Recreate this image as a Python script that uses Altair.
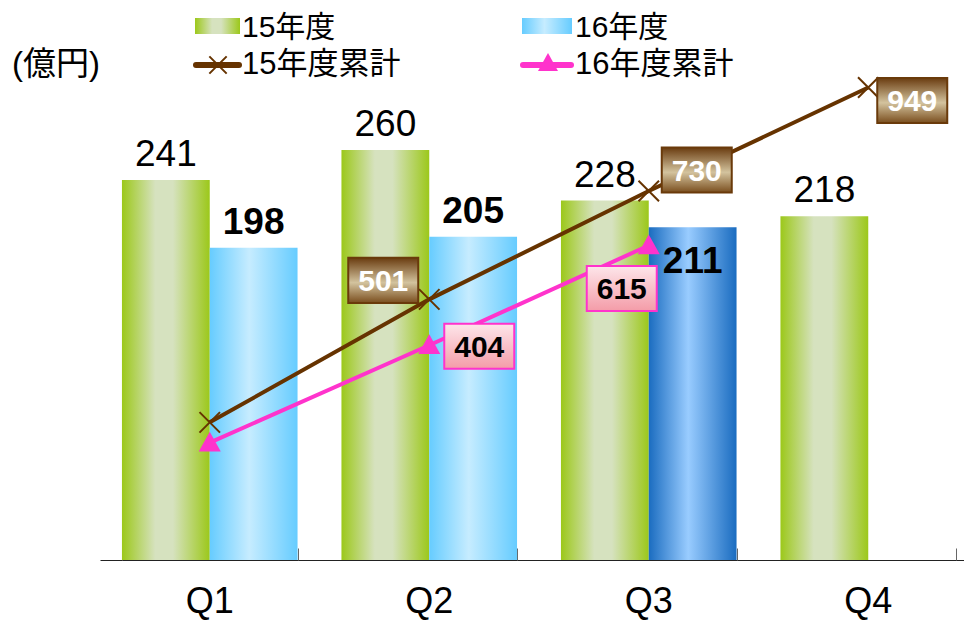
import altair as alt
import pandas as pd

# ---------------- data ----------------
quarters = ["Q1", "Q2", "Q3", "Q4"]
series_names = ["15年度", "16年度"]
fy15 = [241, 260, 228, 218]
fy16 = [198, 205, 211]
highlight_quarters = ["Q3"]
cum_names = ["15年度累計", "16年度累計"]
cum15 = [241, 501, 730, 949]
cum16 = [198, 404, 615]
cum15_labelled = ["Q2", "Q3", "Q4"]
cum16_labelled = ["Q2", "Q3"]
unit_label = "(億円)"

# ---------------- layout / style ----------------
W, H = 864, 473
FONT = "Liberation Sans, Arial, Noto Sans CJK JP, sans-serif"
BROWN = "#663300"
PINK = "#FF33CC"

df15 = pd.DataFrame({"quarter": quarters, "series": series_names[0], "value": fy15})
df16 = pd.DataFrame({"quarter": quarters[:len(fy16)], "series": series_names[1], "value": fy16})
df16["hi"] = df16["quarter"].isin(highlight_quarters)
dc15 = pd.DataFrame({"quarter": quarters, "cum": cum15})
dc16 = pd.DataFrame({"quarter": quarters[:len(cum16)], "cum": cum16})
one = pd.DataFrame({"a": [0]})

xscale = alt.Scale(domain=quarters, range=[0, 878], paddingInner=0.2, paddingOuter=0.1)
xo_scale = alt.Scale(domain=series_names, paddingInner=0, paddingOuter=0)
y1 = alt.Scale(domain=[0, 300], nice=False, zero=True)
y2 = alt.Scale(domain=[-50, 950], nice=False, zero=False)


def X(axis=None):
    return alt.X("quarter:N", scale=xscale, axis=axis, title=None)


def XO():
    return alt.XOffset("series:N", scale=xo_scale)


def hgrad(stops):
    return alt.Gradient(gradient="linear", x1=0, y1=0, x2=1, y2=0,
                        stops=[alt.GradientStop(color=c, offset=o) for o, c in stops])


def vgrad(stops):
    return alt.Gradient(gradient="linear", x1=0, y1=0, x2=0, y2=1,
                        stops=[alt.GradientStop(color=c, offset=o) for o, c in stops])


green = hgrad([(0, "#9CC81A"), (0.38, "#D6E2BF"), (0.58, "#D6E2BF"), (1, "#9CC81A")])
lblue = hgrad([(0, "#66CCFF"), (0.45, "#C6ECFF"), (1, "#66CCFF")])
dblue = hgrad([(0, "#1A6CC0"), (0.45, "#99CCFF"), (1, "#1A6CC0")])
brown_box = vgrad([(0, "#6A3C10"), (0.55, "#D3C39E"), (1, "#7A4E1E")])
pink_box = vgrad([(0, "#FDE6EA"), (1, "#F49CA8")])

axis_bottom = alt.Axis(orient="bottom", domain=True, domainColor="#222222", domainWidth=1,
                       ticks=False, tickSize=0, labels=True, labelFontSize=36, labelFont=FONT,
                       labelColor="black", labelPadding=24, labelAngle=0, grid=False, title=None)
axis_ticks = alt.Axis(orient="top", offset=-H, domain=False, ticks=True, tickBand="extent",
                      tickSize=12, tickColor="#666666", tickWidth=1, labels=False, grid=False,
                      title=None)

bar15 = alt.Chart(df15).mark_bar(fill=green, strokeWidth=0).encode(
    x=X(axis_bottom), xOffset=XO(), y=alt.Y("value:Q", scale=y1, axis=None))
bar16 = alt.Chart(df16).transform_filter(alt.datum.hi == False).mark_bar(fill=lblue, strokeWidth=0).encode(
    x=X(axis_ticks), xOffset=XO(), y=alt.Y("value:Q", scale=y1, axis=None))
bar16h = alt.Chart(df16).transform_filter(alt.datum.hi == True).mark_bar(fill=dblue, strokeWidth=0).encode(
    x=X(), xOffset=XO(), y=alt.Y("value:Q", scale=y1, axis=None))

lab15 = alt.Chart(df15).mark_text(font=FONT, fontSize=37, color="black", baseline="alphabetic", dy=-14).encode(
    x=X(), xOffset=XO(), y=alt.Y("value:Q", scale=y1, axis=None), text="value:Q")
lab16 = alt.Chart(df16).transform_filter(alt.datum.hi == False).mark_text(
    font=FONT, fontSize=37, fontWeight="bold", color="black", baseline="alphabetic", dy=-14).encode(
    x=X(), xOffset=XO(), y=alt.Y("value:Q", scale=y1, axis=None), text="value:Q")
lab16h = alt.Chart(df16).transform_filter(alt.datum.hi == True).mark_text(
    font=FONT, fontSize=37, fontWeight="bold", color="black", baseline="alphabetic", dy=46).encode(
    x=X(), xOffset=XO(), y=alt.Y("value:Q", scale=y1, axis=None), text="value:Q")

XSHAPE = "M-1,-1L1,1M-1,1L1,-1"
TRI = "M0,-1L1,0.8L-1,0.8Z"
BOX = "M-1,-0.643H1V0.643H-1Z"

line15 = alt.Chart(dc15).mark_line(color=BROWN, strokeWidth=4).encode(
    x=X(), y=alt.Y("cum:Q", scale=y2, axis=None))
pts15 = alt.Chart(dc15).mark_point(shape=XSHAPE, filled=False, stroke=BROWN, strokeWidth=2,
                                   size=420, opacity=1).encode(
    x=X(), y=alt.Y("cum:Q", scale=y2, axis=None))
line16 = alt.Chart(dc16).mark_line(color=PINK, strokeWidth=4).encode(
    x=X(), y=alt.Y("cum:Q", scale=y2, axis=None))
pts16 = alt.Chart(dc16).mark_point(shape=TRI, filled=True, fill=PINK, strokeWidth=0,
                                   size=484, opacity=1).encode(
    x=X(), y=alt.Y("cum:Q", scale=y2, axis=None))

# label box offsets (layout)
offsets15 = {"Q2": (-46, -19), "Q3": (48, -21), "Q4": (44, 13)}
offsets16 = {"Q2": (50, 1), "Q3": (-27, 43)}

label_layers = []
for df, qs, offs, fill, stroke, tcolor in [
    (dc15, cum15_labelled, offsets15, brown_box, "#6A3A0A", "white"),
    (dc16, cum16_labelled, offsets16, pink_box, "#FF33CC", "black"),
]:
    for q in qs:
        dx, dy = offs[q]
        base = alt.Chart(df).transform_filter(alt.datum.quarter == q)
        box = base.mark_point(shape=BOX, filled=True, fill=fill, stroke=stroke, strokeWidth=2,
                              size=4900, opacity=1, xOffset=dx, yOffset=dy).encode(
            x=X(), y=alt.Y("cum:Q", scale=y2, axis=None))
        txt = base.mark_text(font=FONT, fontSize=30, fontWeight="bold", color=tcolor,
                             baseline="middle", xOffset=dx, yOffset=dy + 2).encode(
            x=X(), y=alt.Y("cum:Q", scale=y2, axis=None), text="cum:Q")
        label_layers += [box, txt]

# ---------------- legend (decoration) ----------------
legend = []
legend.append(alt.Chart(one).mark_rect(fill=green).encode(
    x=alt.value(95), x2=alt.value(140), y=alt.value(-69), y2=alt.value(-53)))
legend.append(alt.Chart(one).mark_rect(fill=lblue).encode(
    x=alt.value(422), x2=alt.value(472), y=alt.value(-69), y2=alt.value(-53)))
legend.append(alt.Chart(one).mark_rule(color=BROWN, strokeWidth=6, strokeCap="round").encode(
    x=alt.value(96), x2=alt.value(139), y=alt.value(-22)))
legend.append(alt.Chart(one).mark_point(shape=XSHAPE, filled=False, stroke=BROWN, strokeWidth=2,
                                        size=300, opacity=1).encode(x=alt.value(118), y=alt.value(-22)))
legend.append(alt.Chart(one).mark_rule(color=PINK, strokeWidth=6, strokeCap="round").encode(
    x=alt.value(423), x2=alt.value(471), y=alt.value(-22)))
legend.append(alt.Chart(one).mark_point(shape=TRI, filled=True, fill=PINK, strokeWidth=0,
                                        size=400, opacity=1).encode(x=alt.value(448), y=alt.value(-24)))
for text, tx, ty, fs in [(series_names[0], 142, -59, 30), (series_names[1], 475, -59, 30),
                         (cum_names[0], 142, -22, 31), (cum_names[1], 475, -22, 31),
                         (unit_label, -88, -22, 33)]:
    legend.append(alt.Chart(one).mark_text(font=FONT, fontSize=fs, color="black", align="left",
                                           baseline="middle", text=text).encode(
        x=alt.value(tx), y=alt.value(ty)))

chart = alt.layer(
    bar15, bar16, bar16h, line15, line16, pts15, pts16, *label_layers, lab15, lab16, lab16h, *legend
).resolve_scale(y="independent").resolve_axis(x="independent").properties(
    width=W, height=H,
    autosize=alt.AutoSizeParams(type="none"),
    padding={"left": 92, "top": 79, "right": 0, "bottom": 60},
).configure_view(stroke=None)

chart.save("out.html", embed_options={"renderer": "svg", "actions": False})
